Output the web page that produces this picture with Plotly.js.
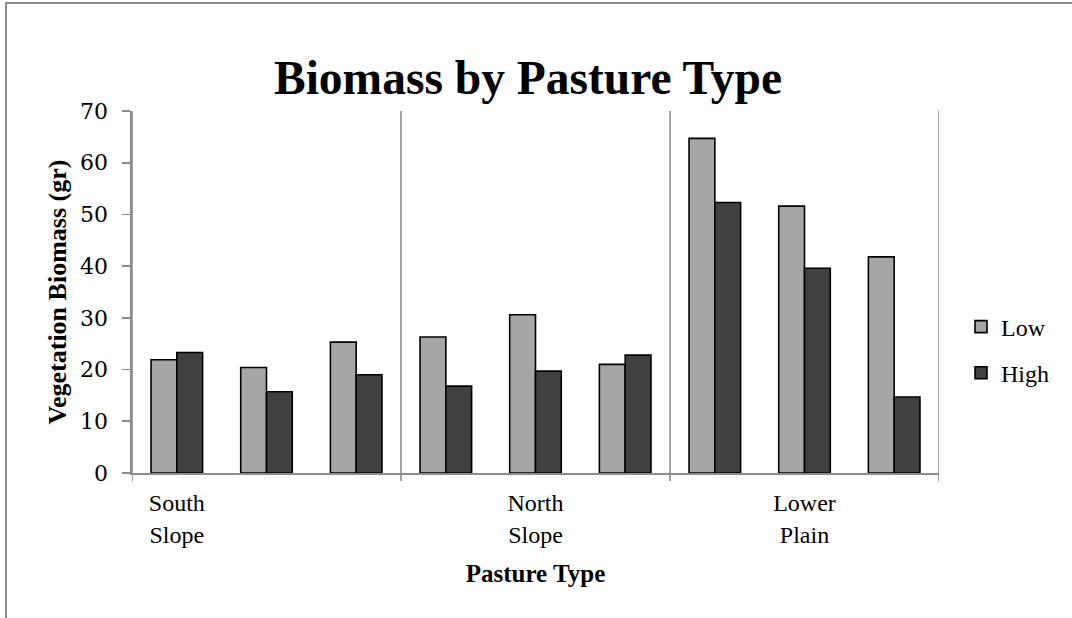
<!DOCTYPE html>
<html>
<head>
<meta charset="utf-8">
<script src="https://cdn.plot.ly/plotly-3.0.1.min.js"></script>
<style>html,body{margin:0;padding:0;background:#fff;}#chart{width:1072px;height:618px;}</style>
</head>
<body>
<div id="chart"></div>
<script>
// Data
const pastureTypes = ["South Slope", "North Slope", "Lower Plain"];
const plotsPerType = 3;
const lowValues  = [21.9, 20.4, 25.3, 26.3, 30.6, 21.0, 64.7, 51.6, 41.8];
const highValues = [23.3, 15.7, 19.0, 16.8, 19.7, 22.8, 52.3, 39.6, 14.7];
const tickLabels = ["South<br>Slope", "North<br>Slope", "Lower<br>Plain"];
const labelCategoryIndex = [0, 4, 7];

const xIdx = lowValues.map((_, i) => i);
const nCat = lowValues.length;

const serif = "'Liberation Serif', 'Times New Roman', serif";
const axisGray = "#8c8c8c";

const traces = [
  {type: "bar", name: "Low", x: xIdx, y: lowValues, legendgroup: "low",
   marker: {color: "#a6a6a6", line: {color: "#000", width: 1.6}}, hoverinfo: "y"},
  {type: "bar", name: "High", x: xIdx, y: highValues, legendgroup: "high",
   marker: {color: "#404040", line: {color: "#000", width: 1.6}}, hoverinfo: "y"}
];

// separator lines between pasture types (category boundaries)
const shapes = [];
for (let g = 0; g <= pastureTypes.length; g++) {
  const xb = g * plotsPerType - 0.5;
  shapes.push({type: "line", xref: "x", yref: "paper", x0: xb, x1: xb, y0: -0.022, y1: 1,
               line: {color: axisGray, width: 1.6}, layer: "below"});
}
// outer chart frame (partially visible)
const W = 1072, H = 618, ml = 132, mr = 133, mt = 111, mb = 145;
const pw = W - ml - mr, ph = H - mt - mb;
shapes.push({type: "rect", xref: "paper", yref: "paper",
  x0: (6 - ml) / pw, x1: (1090 - ml) / pw, y0: (H - mb - 640) / ph, y1: (H - mb - 3) / ph,
  line: {color: "#8c8c8c", width: 2}, fillcolor: "rgba(0,0,0,0)", layer: "below"});

const layout = {
  width: W, height: H,
  margin: {l: ml, r: mr, t: mt, b: mb, pad: 0},
  paper_bgcolor: "#fff", plot_bgcolor: "#fff",
  font: {family: serif, color: "#000", size: 24},
  title: {text: "<b>Biomass by Pasture Type</b>", font: {family: serif, size: 47.5, color: "#000"},
          xref: "container", x: 528 / W, xanchor: "center",
          yref: "container", y: 1 - 77 / H, yanchor: "middle"},
  barmode: "group", bargap: 0.425, bargroupgap: 0,
  xaxis: {range: [-0.5, nCat - 0.5], tickmode: "array",
          tickvals: labelCategoryIndex.map(i => i), ticktext: tickLabels,
          ticks: "", showgrid: false, zeroline: false,
          showline: true, linecolor: axisGray, linewidth: 1.6,
          tickfont: {family: serif, size: 24}, ticklabelstandoff: 8,
          title: {text: "<b>Pasture Type</b>", font: {family: serif, size: 25}, standoff: 18},
          fixedrange: true},
  yaxis: {range: [0, 70], dtick: 10, tick0: 0, ticks: "outside", ticklen: 8, tickwidth: 1.6,
          tickcolor: axisGray, showgrid: false, zeroline: false,
          showline: true, linecolor: axisGray, linewidth: 1.6,
          tickfont: {family: "'DejaVu Serif', serif", size: 22}, ticklabelstandoff: 10,
          title: {text: "<b>Vegetation Biomass (gr)</b>", font: {family: serif, size: 26}, standoff: 6},
          fixedrange: true},
  legend: {x: (961 - ml) / pw, xanchor: "left", y: (H - mb - 350) / ph, yanchor: "middle",
           font: {family: serif, size: 24}, traceorder: "grouped", tracegroupgap: 12,
           bgcolor: "rgba(0,0,0,0)"},
  shapes: shapes,
  showlegend: true
};

Plotly.newPlot("chart", traces, layout, {displayModeBar: false, staticPlot: true});
</script>
</body>
</html>
